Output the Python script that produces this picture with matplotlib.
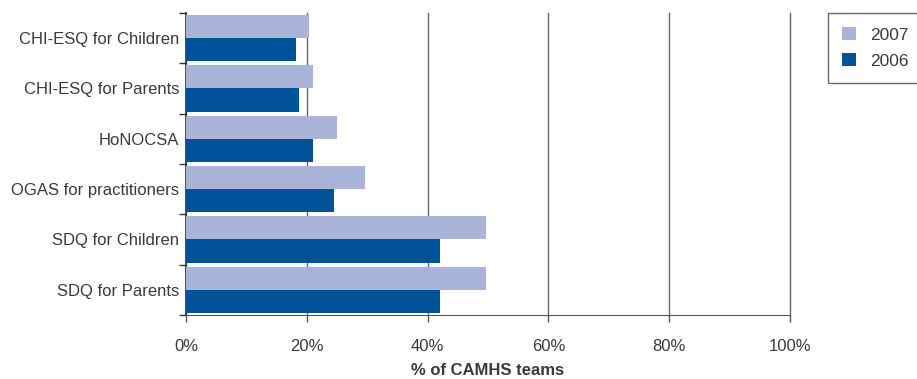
import matplotlib.pyplot as plt
import numpy as np

plt.rcParams['font.family'] = ['Liberation Sans', 'DejaVu Sans']

# данные
measures = ['CHI-ESQ for Children', 'CHI-ESQ for Parents', 'HoNOCSA',
            'OGAS for practitioners', 'SDQ for Children', 'SDQ for Parents']
vals_2007 = [20.3, 21.1, 25.0, 29.7, 49.6, 49.6]
vals_2006 = [18.2, 18.7, 21.1, 24.5, 42.1, 42.1]
xticks = [0, 20, 40, 60, 80, 100]

c2007 = '#a9b4d8'
c2006 = '#00529b'
txt = '#3a3a3a'

fig = plt.figure(figsize=(9.17, 3.79), dpi=100)
ax = fig.add_axes([0.2028, 0.169, 0.6587, 0.7967])

n = len(measures)
y = np.arange(n)[::-1]  # сверху вниз
h = 0.46
ax.barh(y + h / 2, vals_2007, height=h, color=c2007, label='2007', zorder=3)
ax.barh(y - h / 2, vals_2006, height=h, color=c2006, label='2006', zorder=3)

ax.set_xlim(0, 100)
ax.set_ylim(-0.5, n - 0.5)
ax.set_xticks(xticks)
ax.set_xticklabels([f'{v}%' for v in xticks], color=txt, fontsize=12)
ax.set_yticks(y)
ax.set_yticklabels(measures, color=txt, fontsize=12)
ax.set_yticks(np.arange(n + 1) - 0.5, minor=True)
ax.tick_params(axis='y', which='major', length=0, pad=5)
ax.tick_params(axis='y', which='minor', length=5, width=1, color='#333333')
ax.tick_params(axis='x', length=5, width=1, color='#555555', pad=12)

ax.grid(axis='x', color='#666666', linewidth=1, zorder=0)
for gl in ax.get_xgridlines():
    gl.set_clip_on(False)
for s in ['top', 'right']:
    ax.spines[s].set_visible(False)
ax.spines['left'].set_color('#333333')
ax.spines['bottom'].set_color('#555555')
ax.spines['left'].set_linewidth(1.2)

ax.set_xlabel('% of CAMHS teams', fontsize=12, fontweight='bold', color=txt, labelpad=7)

leg = ax.legend(loc='upper left', bbox_to_anchor=(1.063, 1.0), frameon=True,
                fancybox=False, edgecolor='#444444', fontsize=12.5,
                handlelength=0.8, handleheight=0.8, labelspacing=0.6,
                borderpad=0.8, handletextpad=0.8, borderaxespad=0)
for t in leg.get_texts():
    t.set_color(txt)
leg.get_frame().set_linewidth(1)

fig.savefig('out.png', dpi=100)
plt.close()
